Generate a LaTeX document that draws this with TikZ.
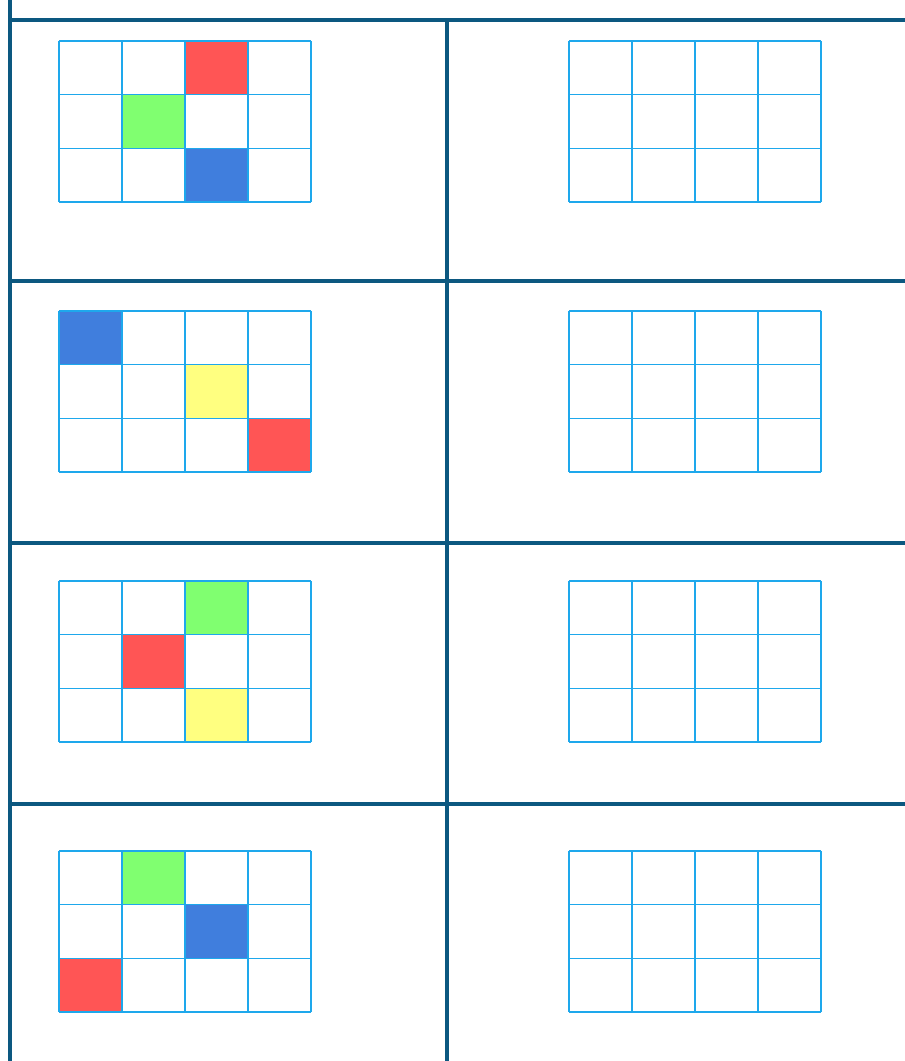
\documentclass[tikz,border=0pt]{standalone}
\definecolor{frame}{RGB}{12,88,128}
\definecolor{gridc}{RGB}{30,168,236}
\definecolor{cred}{RGB}{255,85,85}
\definecolor{cgreen}{RGB}{128,255,112}
\definecolor{cblue}{RGB}{64,126,221}
\definecolor{cyellow}{RGB}{255,255,128}
\tikzset{
  frameline/.style={draw=frame,line width=3.2pt},
  gridline/.style={draw=gridc,line width=1.4pt},
}
\newcommand{\cellw}{63}
\newcommand{\cellh}{53.7}
% \mygrid{x0}{y0}
\newcommand{\mygrid}[2]{%
  \foreach \i in {0,1,2,3,4}{\draw[gridline] ({#1+\i*\cellw},#2) -- ({#1+\i*\cellw},{#2+3*\cellh});}%
  \foreach \j in {0,1,2,3}{\draw[gridline] (#1,{#2+\j*\cellh}) -- ({#1+4*\cellw},{#2+\j*\cellh});}%
}
% \mycell{x0}{y0}{col}{row}{color}
\newcommand{\mycell}[5]{%
  \fill[#5] ({#1+#3*\cellw},{#2+#4*\cellh}) rectangle ({#1+(#3+1)*\cellw},{#2+(#4+1)*\cellh});%
}
\begin{document}
\begin{tikzpicture}[x=1pt,y=-1pt]
\useasboundingbox (0,0) rectangle (905,1061);
\fill[white] (0,0) rectangle (905,1061);
% colored cells
\mycell{59}{41}{2}{0}{cred}
\mycell{59}{41}{1}{1}{cgreen}
\mycell{59}{41}{2}{2}{cblue}
\mycell{59}{311}{0}{0}{cblue}
\mycell{59}{311}{2}{1}{cyellow}
\mycell{59}{311}{3}{2}{cred}
\mycell{59}{581}{2}{0}{cgreen}
\mycell{59}{581}{1}{1}{cred}
\mycell{59}{581}{2}{2}{cyellow}
\mycell{59}{851}{1}{0}{cgreen}
\mycell{59}{851}{2}{1}{cblue}
\mycell{59}{851}{0}{2}{cred}
% grids
\foreach \y in {41,311,581,851}{
  \mygrid{59}{\y}
  \mygrid{569}{\y}
}
% frame lines
\coordinate (L0) at (10,0);
\coordinate (L1) at (10,1061);
\coordinate (M0) at (447,20);
\coordinate (M1) at (447,1061);
\draw[frameline] (L0) -- (L1);
\draw[frameline] (M0) -- (M1);
\foreach \y in {20,281,543,804}{
  \draw[frameline] (10,\y) -- (905,\y);
}
\end{tikzpicture}
\end{document}
